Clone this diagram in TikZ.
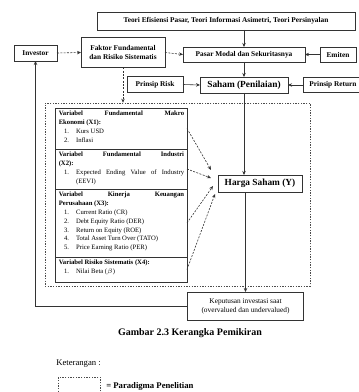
\documentclass[tikz,border=0pt]{standalone}
\usepackage{fontspec}
\setmainfont{Liberation Serif}
\usetikzlibrary{arrows.meta}
\newcommand\myitem[2]{\par\noindent\hspace*{4pt}\makebox[9pt][l]{#1}#2}
\begin{document}
\begin{tikzpicture}[x=0.75pt,y=-0.75pt,
  box/.style={draw=black!80, line width=0.6pt, inner sep=1pt, outer sep=0pt, align=center, font=\fontsize{5.5}{6.5}\selectfont\bfseries},
  bigbox/.style={box, font=\fontsize{7}{8}\selectfont\bfseries},
  secbox/.style={draw=black!80, line width=0.6pt, anchor=north west, inner sep=0pt, outer sep=0pt, minimum width=99pt},
  sectext/.style={anchor=north west, inner sep=0pt, text width=94pt, align=justify, font=\fontsize{5}{6.6}\selectfont},
  arr/.style={draw=black!80, line width=0.45pt, -{Stealth[length=3pt,width=2.6pt]}},
  darr/.style={arr, dash pattern=on 1.5pt off 1pt},
  dbox/.style={draw=black!70, line width=0.5pt, dash pattern=on 1pt off 1pt, inner sep=0pt}
]
\useasboundingbox (0,0) rectangle (358,392);

% top level boxes
\node[box, minimum width=193.5pt, minimum height=13.5pt] (top) at (226,21) {Teori Efisiensi Pasar, Teori Informasi Asimetri, Teori Persinyalan};
\node[box, minimum width=32.25pt, minimum height=12pt] (inv) at (35.5,53) {Investor};
\node[box, minimum width=63pt, minimum height=22.5pt] (fak) at (123,52.5) {Faktor Fundamental\\dan Risiko Sistematis};
\node[box, minimum width=91.5pt, minimum height=11.25pt] (pasar) at (244,54.5) {Pasar Modal dan Sekuritasnya};
\node[box, minimum width=27pt, minimum height=11.25pt] (emiten) at (338,54.5) {Emiten};
\node[box, minimum width=42pt, minimum height=11.5pt] (risk) at (155,84.5) {Prinsip Risk};
\node[bigbox, minimum width=66pt, minimum height=12pt] (saham) at (244,85) {Saham (Penilaian)};
\node[box, minimum width=45pt, minimum height=11.5pt] (return) at (333,85) {Prinsip Return};

% dashed paradigm box
\node[dbox, minimum width=198.75pt, minimum height=137.25pt] (para) at (177.5,194.5) {};

% variable sections
\node[secbox, minimum height=30.75pt] (x1) at (55,108) {};
\node[secbox, minimum height=30pt] (x2) at (55,149) {};
\node[secbox, minimum height=51pt] (x3) at (55,189) {};
\node[secbox, minimum height=18.75pt] (x4) at (55,257) {};

\node[sectext] (t1) at ([shift={(3.5,3)}]x1.north west) {\textbf{Variabel Fundamental Makro\linebreak Ekonomi (X1):}
  \myitem{1.}{Kurs USD}
  \myitem{2.}{Inflasi}};
\node[sectext] (t2) at ([shift={(3.5,3)}]x2.north west) {\textbf{Variabel Fundamental Industri\linebreak (X2):}
  \par\hangindent=13pt\hangafter=1\noindent\hspace*{4pt}\makebox[9pt][l]{1.}Expected Ending Value of Industry (EEVI)\par};
\node[sectext] (t3) at ([shift={(3.5,3)}]x3.north west) {\textbf{Variabel Kinerja Keuangan\linebreak Perusahaan (X3):}
  \myitem{1.}{Current Ratio (CR)}
  \myitem{2.}{Debt Equity Ratio (DER)}
  \myitem{3.}{Return on Equity (ROE)}
  \myitem{4.}{Total Asset Turn Over (TATO)}
  \myitem{5.}{Price Earning Ratio (PER)}};
\node[sectext] (t4) at ([shift={(3.5,3)}]x4.north west) {\textbf{Variabel Risiko Sistematis (X4):}
  \myitem{1.}{Nilai Beta ($\beta$)}};

\node[bigbox, minimum width=63pt, minimum height=12.75pt] (harga) at (260,183.5) {Harga Saham (Y)};
\node[box, minimum width=87pt, minimum height=21pt, font=\fontsize{5.5}{6.8}\selectfont] (kep) at (245.5,306) {Keputusan investasi saat\\(overvalued dan undervalued)};

% connectors
\draw[darr] (inv.east) -- (fak.west);
\draw[darr] (fak.east) -- (pasar.west);
\draw[arr] (emiten.west) -- (pasar.east);
\draw[arr] (pasar.north |- top.south) -- (pasar.north);
\draw[arr] (pasar.south) -- (saham.north);
\draw[arr] (risk.east) -- (saham.west);
\draw[arr] (return.west) -- (saham.east);
\draw[darr] (fak.south) -- (fak.south |- para.north);
\draw[arr] (saham.south) -- (saham.south |- harga.north);
\draw[arr] (kep.north |- harga.south) -- (kep.north);
\draw[arr] (kep.west) -| (inv.south);

\coordinate (h1) at ([shift={(-7,-13.5)}]harga.west);
\coordinate (h2) at ([shift={(-7,-5.5)}]harga.west);
\coordinate (h3) at ([shift={(-5,2.5)}]harga.west);
\coordinate (h4) at ([shift={(-3,10.5)}]harga.west);
\draw[darr] (x1.east) -- (h1);
\draw[darr] (x2.east) -- (h2);
\draw[darr] (x3.east) -- (h3);
\draw[darr] (x4.east) -- (h4);

% caption and legend
\node[font=\fontsize{7.5}{9}\selectfont\bfseries] (cap) at (190,333) {Gambar 2.3 Kerangka Pemikiran};
\node[anchor=west, inner sep=0pt, font=\fontsize{6.5}{8}\selectfont] (ket) at (56,364) {Keterangan :};
\node[dbox, anchor=north west, minimum width=31.5pt, minimum height=15pt] (leg) at (58,377) {};
\node[anchor=west, inner sep=0pt, font=\fontsize{6.5}{8}\selectfont\bfseries] (legt) at (106,386) {= Paradigma Penelitian};
\end{tikzpicture}
\end{document}
